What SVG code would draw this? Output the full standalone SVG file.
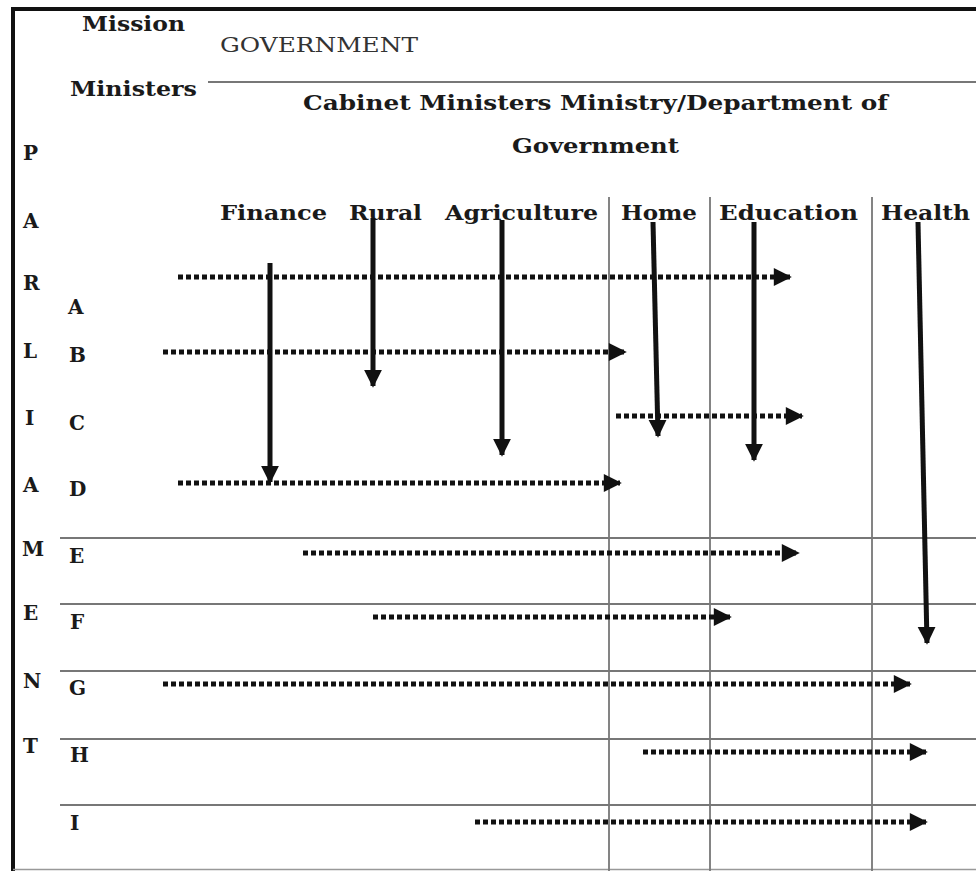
<svg xmlns="http://www.w3.org/2000/svg" width="976" height="871" viewBox="0 0 976 871">
<style>
.b{font-family:"DejaVu Serif","Liberation Serif",serif;font-weight:bold;font-size:20px;fill:#1a1a1a}
.r{font-family:"DejaVu Serif","Liberation Serif",serif;font-size:20px;fill:#333}
.grid{stroke:#777;stroke-width:1.8;fill:none}
.dash{stroke:#111;stroke-width:5;stroke-dasharray:5 3;fill:none}
.solid{stroke:#111;stroke-width:5;fill:none}
</style>
<defs>
<marker id="ah" viewBox="0 0 10 10" refX="9" refY="5" markerWidth="4" markerHeight="3.6" orient="auto" markerUnits="strokeWidth">
<path d="M0,0 L10,5 L0,10 Z" fill="#111"/>
</marker>
<marker id="av" viewBox="0 0 10 10" refX="9" refY="5" markerWidth="3.6" markerHeight="4" orient="auto" markerUnits="strokeWidth">
<path d="M0,0 L10,5 L0,10 Z" fill="#111"/>
</marker>
</defs>
<rect width="976" height="871" fill="#fff"/>
<g id="frame">
<path d="M980,9 L13,9 L13,871" stroke="#111" stroke-width="4" fill="none"/>
<line x1="13" y1="869.5" x2="976" y2="869.5" stroke="#999" stroke-width="1.5"/>
</g>
<g id="grid">
<line class="grid" x1="208" y1="82" x2="976" y2="82"/>
<line class="grid" x1="609" y1="197" x2="609" y2="871"/>
<line class="grid" x1="710" y1="197" x2="710" y2="871"/>
<line class="grid" x1="872" y1="197" x2="872" y2="871"/>
<line class="grid" x1="60" y1="538" x2="976" y2="538"/>
<line class="grid" x1="60" y1="604" x2="976" y2="604"/>
<line class="grid" x1="60" y1="671" x2="976" y2="671"/>
<line class="grid" x1="60" y1="739" x2="976" y2="739"/>
<line class="grid" x1="60" y1="805" x2="976" y2="805"/>
</g>
<g id="header">
<text class="b" x="82" y="31" textLength="103" lengthAdjust="spacingAndGlyphs">Mission</text>
<text class="r" x="220" y="52" textLength="198" lengthAdjust="spacingAndGlyphs">GOVERNMENT</text>
<text class="b" x="70" y="96" textLength="127" lengthAdjust="spacingAndGlyphs">Ministers</text>
<text class="b" x="303" y="110" textLength="585" lengthAdjust="spacingAndGlyphs">Cabinet Ministers Ministry/Department of</text>
<text class="b" x="512" y="153" textLength="167" lengthAdjust="spacingAndGlyphs">Government</text>
</g>
<g id="columns">
<text class="b" x="220" y="220" textLength="107" lengthAdjust="spacingAndGlyphs">Finance</text>
<text class="b" x="349" y="220" textLength="73" lengthAdjust="spacingAndGlyphs">Rural</text>
<text class="b" x="445" y="220" textLength="153" lengthAdjust="spacingAndGlyphs">Agriculture</text>
<text class="b" x="621" y="220" textLength="76" lengthAdjust="spacingAndGlyphs">Home</text>
<text class="b" x="719" y="220" textLength="139" lengthAdjust="spacingAndGlyphs">Education</text>
<text class="b" x="881" y="220" textLength="89" lengthAdjust="spacingAndGlyphs">Health</text>
</g>
<g id="parliament" class="b">
<text class="b" x="23" y="160">P</text>
<text class="b" x="23" y="228">A</text>
<text class="b" x="23" y="290">R</text>
<text class="b" x="23" y="358">L</text>
<text class="b" x="25" y="425">I</text>
<text class="b" x="23" y="492">A</text>
<text class="b" x="22" y="556">M</text>
<text class="b" x="23" y="620">E</text>
<text class="b" x="23" y="688">N</text>
<text class="b" x="23" y="753">T</text>
</g>
<g id="rows">
<text class="b" x="68" y="314">A</text>
<text class="b" x="69" y="362">B</text>
<text class="b" x="69" y="430">C</text>
<text class="b" x="69" y="496">D</text>
<text class="b" x="69" y="563">E</text>
<text class="b" x="70" y="629">F</text>
<text class="b" x="69" y="695">G</text>
<text class="b" x="70" y="762">H</text>
<text class="b" x="70" y="830">I</text>
</g>
<g id="connectors">
<line class="dash" x1="178" y1="277" x2="790" y2="277" marker-end="url(#ah)"/>
<line class="dash" x1="163" y1="352" x2="625" y2="352" marker-end="url(#ah)"/>
<line class="dash" x1="616" y1="416" x2="802" y2="416" marker-end="url(#ah)"/>
<line class="dash" x1="178" y1="483" x2="620" y2="483" marker-end="url(#ah)"/>
<line class="dash" x1="303" y1="553" x2="798" y2="553" marker-end="url(#ah)"/>
<line class="dash" x1="373" y1="617" x2="730" y2="617" marker-end="url(#ah)"/>
<line class="dash" x1="163" y1="684" x2="910" y2="684" marker-end="url(#ah)"/>
<line class="dash" x1="643" y1="752" x2="926" y2="752" marker-end="url(#ah)"/>
<line class="dash" x1="475" y1="822" x2="926" y2="822" marker-end="url(#ah)"/>
<line class="solid" x1="270" y1="263" x2="270" y2="482" marker-end="url(#av)"/>
<line class="solid" x1="373" y1="218" x2="373" y2="386" marker-end="url(#av)"/>
<line class="solid" x1="502" y1="220" x2="502" y2="455" marker-end="url(#av)"/>
<line class="solid" x1="653" y1="222" x2="658" y2="436" marker-end="url(#av)"/>
<line class="solid" x1="754" y1="222" x2="754" y2="460" marker-end="url(#av)"/>
<line class="solid" x1="918" y1="222" x2="927" y2="643" marker-end="url(#av)"/>
</g>
</svg>
